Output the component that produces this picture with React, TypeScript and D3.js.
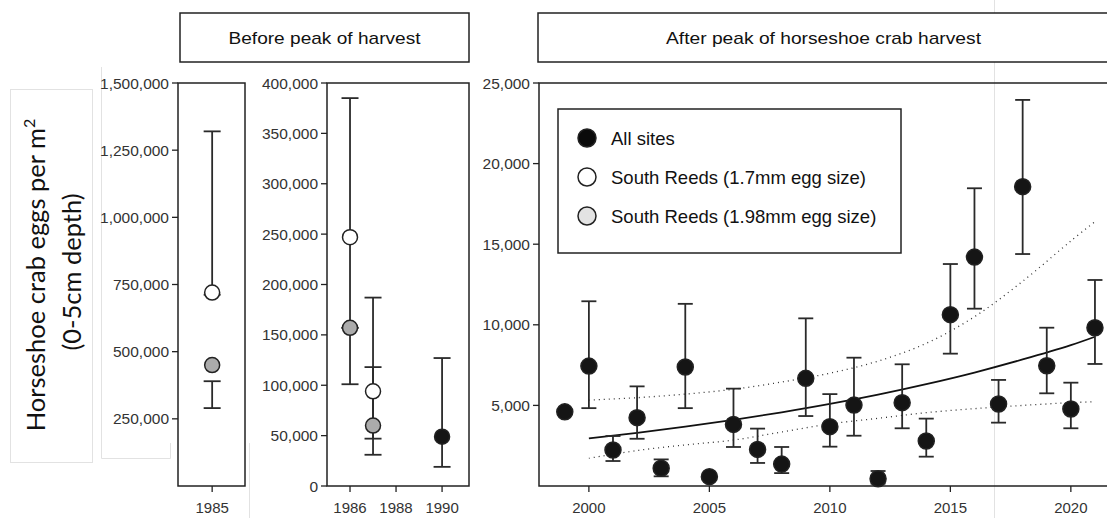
import React from "react";
import * as d3 from "d3";

// ---------- DATA ----------
type Pt = { year: number; value: number; low?: number; high?: number; kind: "black" | "white" | "gray" };

const panelALeftPoints: Pt[] = [
  { year: 1985, value: 720000, low: 712000, high: 1320000, kind: "white" },
  { year: 1985, value: 450000, low: 290000, high: 390000, kind: "gray" },
];
const panelAYTicks = [250000, 500000, 750000, 1000000, 1250000, 1500000];
const panelAXTicks = [1985];

const panelBPoints: Pt[] = [
  { year: 1986, value: 247000, low: 157000, high: 385000, kind: "white" },
  { year: 1986, value: 157000, low: 101000, high: 157000, kind: "gray" },
  { year: 1987, value: 94000, low: 47000, high: 187000, kind: "white" },
  { year: 1987, value: 60000, low: 31000, high: 118000, kind: "gray" },
  { year: 1990, value: 49000, low: 19000, high: 127000, kind: "black" },
];
const panelBYTicks = [0, 50000, 100000, 150000, 200000, 250000, 300000, 350000, 400000];
const panelBXTicks = [1986, 1988, 1990];

const afterYears = [1999, 2000, 2001, 2002, 2003, 2004, 2005, 2006, 2007, 2008, 2009, 2010, 2011, 2012, 2013, 2014, 2015, 2016, 2017, 2018, 2019, 2020, 2021];
const afterMeans = [4600, 7440, 2230, 4240, 1100, 7380, 580, 3820, 2270, 1360, 6680, 3680, 5020, 450, 5170, 2790, 10630, 14200, 5090, 18570, 7460, 4780, 9820];
const afterLow = [NaN, 4830, 1550, 2930, 600, 4830, NaN, 2420, 1430, 800, 4340, 2440, 3120, 150, 3580, 1820, 8210, 11000, 3930, 14390, 5750, 3580, 7570];
const afterHigh = [NaN, 11460, 3100, 6180, 1650, 11300, NaN, 6040, 3560, 2420, 10400, 5700, 7960, 930, 7550, 4180, 13770, 18470, 6580, 23950, 9820, 6410, 12780];
const afterYTicks = [5000, 10000, 15000, 20000, 25000];
const afterXTicks = [2000, 2005, 2010, 2015, 2020];

const trendYears = [2000, 2002, 2004, 2006, 2008, 2010, 2012, 2014, 2016, 2018, 2020, 2021];
const trendFit = [2960, 3300, 3680, 4100, 4570, 5090, 5670, 6320, 7040, 7850, 8740, 9260];
const trendUpper = [5330, 5480, 5700, 6000, 6450, 7000, 7750, 8850, 10500, 12700, 15200, 16400];
const trendLower = [1720, 2200, 2550, 2850, 3350, 3850, 4200, 4550, 4800, 5000, 5170, 5230];

const legendLabels = ["All sites", "South Reeds (1.7mm egg size)", "South Reeds (1.98mm egg size)"];
const headerLabels = ["Before peak of harvest", "After peak of horseshoe crab harvest"];

// ---------- STYLE ----------
const FONT = "'Liberation Sans', Arial, Helvetica, sans-serif";
const AXIS = "#222";
const TICKTXT = "#333";
const FILL: Record<string, string> = { black: "#151515", white: "#ffffff", gray: "#ababab" };

const TOP = 83;
const BOTTOM = 486;

function fmt(v: number) {
  return d3.format(",")(v);
}

function YAxis({ x, y, ticks }: { x: number; y: d3.ScaleLinear<number, number>; ticks: number[] }) {
  return (
    <g>
      {ticks.map((t) => (
        <g key={t}>
          <line x1={x - 6} x2={x} y1={y(t)} y2={y(t)} stroke={AXIS} strokeWidth={1.3} />
          <text x={x - 9} y={y(t) + 5.5} textAnchor="end" fontFamily={FONT} fontSize={15.5} fill={TICKTXT}>
            {fmt(t)}
          </text>
        </g>
      ))}
    </g>
  );
}

function XAxis({ xs, ticks }: { xs: d3.ScaleLinear<number, number>; ticks: number[] }) {
  return (
    <g>
      {ticks.map((t) => (
        <g key={t}>
          <line x1={xs(t)} x2={xs(t)} y1={BOTTOM} y2={BOTTOM + 6} stroke={AXIS} strokeWidth={1.3} />
          <text x={xs(t)} y={BOTTOM + 27} textAnchor="middle" fontFamily={FONT} fontSize={15} fill={TICKTXT}>
            {t}
          </text>
        </g>
      ))}
    </g>
  );
}

function ErrBar({ x, y1, y2, cw }: { x: number; y1: number; y2: number; cw: number }) {
  return (
    <g stroke="#2a2a2a" strokeWidth={1.8}>
      <line x1={x} x2={x} y1={y1} y2={y2} />
      <line x1={x - cw / 2} x2={x + cw / 2} y1={y1} y2={y1} />
      <line x1={x - cw / 2} x2={x + cw / 2} y1={y2} y2={y2} />
    </g>
  );
}

function PointsLayer({ pts, xs, ys, r, cw }: { pts: Pt[]; xs: d3.ScaleLinear<number, number>; ys: d3.ScaleLinear<number, number>; r: number; cw: number }) {
  return (
    <g>
      {pts.map((p, i) =>
        p.low !== undefined && p.high !== undefined && !isNaN(p.low) ? (
          <ErrBar key={"e" + i} x={xs(p.year)} y1={ys(p.high)} y2={ys(p.low)} cw={cw} />
        ) : null
      )}
      {pts.map((p, i) => (
        <circle key={"c" + i} cx={xs(p.year)} cy={ys(p.value)} r={r} fill={FILL[p.kind]} stroke="#222" strokeWidth={1.5} />
      ))}
    </g>
  );
}

export default function App() {
  const xA = d3.scaleLinear().domain([1984.48, 1985.5]).range([178, 245]);
  const yA = d3.scaleLinear().domain([0, 1500000]).range([BOTTOM, TOP]);
  const xB = d3.scaleLinear().domain([1985, 1991.17]).range([327, 469]);
  const yB = d3.scaleLinear().domain([0, 400000]).range([BOTTOM, TOP]);
  const xC = d3.scaleLinear().domain([1997.93, 2021.5]).range([539, 1107]);
  const yC = d3.scaleLinear().domain([0, 25000]).range([BOTTOM, TOP]);

  const afterPts: Pt[] = afterYears.map((yr, i) => ({
    year: yr,
    value: afterMeans[i],
    low: afterLow[i],
    high: afterHigh[i],
    kind: "black",
  }));

  const lineGen = (vals: number[]) =>
    d3
      .line<number>()
      .x((_, i) => xC(trendYears[i]))
      .y((v) => yC(v))
      .curve(d3.curveCatmullRom.alpha(0.5))(vals) || "";

  return (
    <svg width={1107} height={518} style={{ display: "block", position: "absolute", left: 0, top: 0, background: "#fff" }}>
      <rect x={0} y={0} width={1107} height={518} fill="#fff" />
      <g stroke="#e2e2e2" strokeWidth={1} fill="none">
        <rect x={10.5} y={89.5} width={82} height={373} />
        <polyline points="101.5,67 101.5,458.5 170.5,458.5 170.5,443" />
        <line x1={994.5} x2={994.5} y1={0} y2={518} />
        <line x1={249.5} x2={249.5} y1={443} y2={518} />
      </g>

      {/* Y-axis label */}
      <g fontFamily="Lato, 'Open Sans', sans-serif" fontSize={25.5} fill="#111" textAnchor="middle">
        <text transform="translate(45,275) rotate(-90)">
          Horseshoe crab eggs per m<tspan dy={-10} fontSize={16}>2</tspan>
        </text>
        <text transform="translate(81,272) rotate(-90)">(0-5cm depth)</text>
      </g>

      {/* header boxes */}
      <g fill="#fff" stroke="#222" strokeWidth={1.5}>
        <rect x={180} y={13} width={289} height={49} />
        <rect x={538} y={13} width={580} height={49} />
      </g>
      <text x={324.5} y={43.5} textAnchor="middle" fontFamily={FONT} fontSize={17} fill="#111" textLength={192} lengthAdjust="spacingAndGlyphs">
        {headerLabels[0]}
      </text>
      <text x={823.5} y={43.5} textAnchor="middle" fontFamily={FONT} fontSize={17} fill="#111" textLength={315} lengthAdjust="spacingAndGlyphs">
        {headerLabels[1]}
      </text>

      {/* Panel A */}
      <rect x={178} y={TOP} width={67} height={BOTTOM - TOP} fill="none" stroke={AXIS} strokeWidth={1.5} />
      <YAxis x={178} y={yA} ticks={panelAYTicks} />
      <XAxis xs={xA} ticks={panelAXTicks} />
      <PointsLayer pts={panelALeftPoints} xs={xA} ys={yA} r={7.5} cw={17} />

      {/* Panel B */}
      <rect x={327} y={TOP} width={142} height={BOTTOM - TOP} fill="none" stroke={AXIS} strokeWidth={1.5} />
      <YAxis x={327} y={yB} ticks={panelBYTicks} />
      <XAxis xs={xB} ticks={panelBXTicks} />
      <PointsLayer pts={panelBPoints} xs={xB} ys={yB} r={7.5} cw={17} />

      {/* Panel C */}
      <path d={`M1107,${TOP}H539V${BOTTOM}H1107`} fill="none" stroke={AXIS} strokeWidth={1.5} />
      <YAxis x={539} y={yC} ticks={afterYTicks} />
      <XAxis xs={xC} ticks={afterXTicks} />

      <path d={lineGen(trendFit)} fill="none" stroke="#111" strokeWidth={1.8} />
      <path d={lineGen(trendUpper)} fill="none" stroke="#333" strokeWidth={1.3} strokeDasharray="1 4" />
      <path d={lineGen(trendLower)} fill="none" stroke="#333" strokeWidth={1.3} strokeDasharray="1 4" />

      <PointsLayer pts={afterPts} xs={xC} ys={yC} r={8} cw={15} />

      {/* legend */}
      <rect x={558} y={109} width={343} height={144} fill="#fff" stroke="#222" strokeWidth={1.5} />
      {legendLabels.map((lab, i) => (
        <g key={lab}>
          <circle cx={587} cy={138 + i * 39} r={9} fill={["#0a0a0a", "#fff", "#e3e3e3"][i]} stroke="#222" strokeWidth={1.5} />
          <text x={611} y={138 + i * 39 + 6.5} fontFamily={FONT} fontSize={18.5} fill="#111">
            {lab}
          </text>
        </g>
      ))}
    </svg>
  );
}
